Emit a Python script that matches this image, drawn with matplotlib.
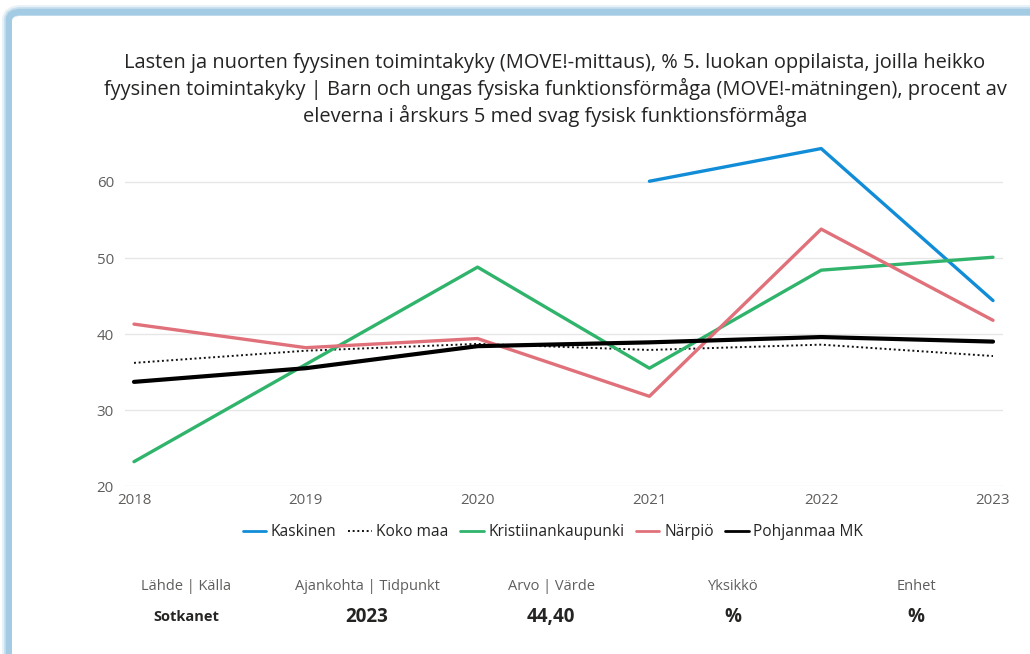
import matplotlib.pyplot as plt
from matplotlib.patches import FancyBboxPatch

plt.rcParams['font.family'] = ['Open Sans', 'DejaVu Sans']

years = [2018, 2019, 2020, 2021, 2022, 2023]
kaskinen = [None, None, None, 60.1, 64.4, 44.4]
koko_maa = [36.2, 37.8, 38.7, 37.9, 38.6, 37.1]
kristiinankaupunki = [23.2, 36.0, 48.8, 35.5, 48.4, 50.1]
narpio = [41.3, 38.2, 39.4, 31.8, 53.8, 41.8]
pohjanmaa = [33.7, 35.5, 38.4, 38.9, 39.6, 39.0]

title = ("Lasten ja nuorten fyysinen toimintakyky (MOVE!-mittaus), % 5. luokan oppilaista, joilla heikko\n"
         "fyysinen toimintakyky | Barn och ungas fysiska funktionsförmåga (MOVE!-mätningen), procent av\n"
         "eleverna i årskurs 5 med svag fysisk funktionsförmåga")

info_headers = ["Lähde | Källa", "Ajankohta | Tidpunkt", "Arvo | Värde", "Yksikkö", "Enhet"]
info_values = ["Sotkanet", "2023", "44,40", "%", "%"]

W, H = 1030, 654
fig = plt.figure(figsize=(W / 100, H / 100), dpi=100)

# card border (blue glow on top and left)
for alpha, lw in [(0.25, 10), (0.5, 7), (1.0, 4.5)]:
    card = FancyBboxPatch((9 / W, -0.1), 1.2, (H - 12) / H + 0.1,
                          boxstyle="round,pad=0,rounding_size=0.012",
                          transform=fig.transFigure, facecolor='none',
                          edgecolor='#a3cbe3', linewidth=lw, alpha=alpha, zorder=-3)
    fig.patches.append(card)
fig.patches.append(FancyBboxPatch((12 / W, -0.1), 1.2, (H - 16) / H + 0.1,
                                  boxstyle="round,pad=0,rounding_size=0.008",
                                  transform=fig.transFigure, facecolor='white',
                                  edgecolor='none', zorder=-2))

fig.text(555 / W, 1 - 90 / H, title, ha='center', va='center', fontsize=14.4,
         color='#252423', linespacing=1.3)

ax = fig.add_axes([125 / W, 1 - 486 / H, (1003 - 125) / W, (486 - 144) / H])
ax.set_facecolor('none')

def plot_series(vals, **kw):
    xs = [y for y, v in zip(years, vals) if v is not None]
    vs = [v for v in vals if v is not None]
    ax.plot(xs, vs, solid_capstyle='round', **kw)

plot_series(kaskinen, color='#118dd8', lw=2.4, label='Kaskinen')
plot_series(koko_maa, color='#111111', lw=1.4, ls=(0, (1, 1.4)), label='Koko maa')
plot_series(kristiinankaupunki, color='#30b46c', lw=2.4, label='Kristiinankaupunki')
plot_series(narpio, color='#e0717a', lw=2.4, label='Närpiö')
plot_series(pohjanmaa, color='#000000', lw=3, label='Pohjanmaa MK')

ax.set_xlim(2018 - 9 / 171.8, 2023 + 10 / 171.8)
ax.set_ylim(20, 65)
ax.set_yticks([20, 30, 40, 50, 60])
ax.set_xticks(years)
ax.grid(axis='y', color='#e6e6e6', lw=1)
ax.set_axisbelow(True)
for s in ax.spines.values():
    s.set_visible(False)
ax.tick_params(axis='both', length=0, colors='#605e5c', labelsize=10.8)
ax.tick_params(axis='y', pad=8)
ax.tick_params(axis='x', pad=5)

handles, labels = ax.get_legend_handles_labels()
leg = fig.legend(handles, labels, loc='center', bbox_to_anchor=(553 / W, 1 - 532 / H),
                 ncol=5, frameon=False, fontsize=11.2, handlelength=1.5,
                 handletextpad=0.3, columnspacing=0.75, labelcolor='#252423')
for ln in leg.get_lines():
    ln.set_linewidth(min(ln.get_linewidth(), 2.0))

cols = [186, 367, 551, 733, 916]
for x, h, v in zip(cols, info_headers, info_values):
    fig.text(x / W, 1 - 586 / H, h, ha='center', va='center', fontsize=10.5, color='#605e5c')
    fig.text(x / W, 1 - 617 / H, v, ha='center', va='center', fontweight='bold',
             fontsize=10.5 if v == "Sotkanet" else 13.5, color='#252423')

fig.savefig('out.png', dpi=100)
